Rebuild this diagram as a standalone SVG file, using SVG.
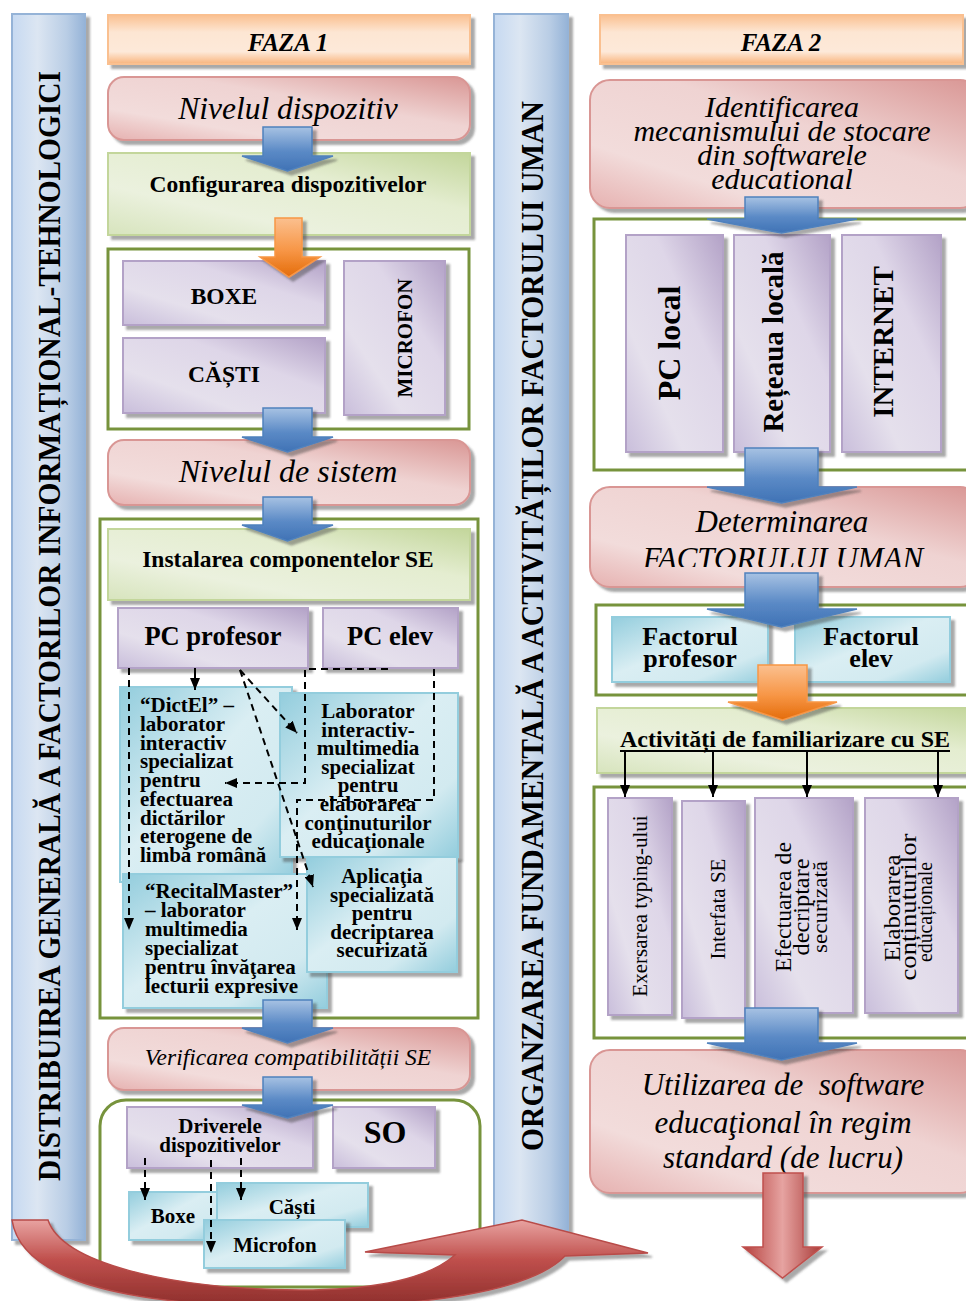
<svg xmlns="http://www.w3.org/2000/svg" width="966" height="1301" viewBox="0 0 966 1301">
<defs>
<linearGradient id="gOr" x1="0" y1="0" x2="0" y2="1"><stop offset="0" stop-color="#fac090"/><stop offset="0.35" stop-color="#fde6d3"/><stop offset="0.75" stop-color="#fde9d9"/><stop offset="1" stop-color="#f9b47c"/></linearGradient>
<linearGradient id="gPk" x1="0" y1="1" x2="1" y2="0"><stop offset="0" stop-color="#e6b1b0"/><stop offset="0.25" stop-color="#f2dcdb"/><stop offset="0.6" stop-color="#efd3d2"/><stop offset="1" stop-color="#d99694"/></linearGradient>
<linearGradient id="gGr" x1="0" y1="1" x2="1" y2="0"><stop offset="0" stop-color="#d7e4bd"/><stop offset="0.3" stop-color="#ebf1de"/><stop offset="0.65" stop-color="#e4edd0"/><stop offset="1" stop-color="#c3d69b"/></linearGradient>
<linearGradient id="gPu" x1="0" y1="1" x2="1" y2="0"><stop offset="0" stop-color="#c9bedb"/><stop offset="0.3" stop-color="#e5e0ec"/><stop offset="0.65" stop-color="#ded6e8"/><stop offset="1" stop-color="#b3a2c7"/></linearGradient>
<linearGradient id="gCy" x1="0" y1="0" x2="1" y2="1"><stop offset="0" stop-color="#93cddd"/><stop offset="0.45" stop-color="#daeef3"/><stop offset="0.75" stop-color="#d2eaf0"/><stop offset="1" stop-color="#93cddd"/></linearGradient>
<linearGradient id="gBar" x1="0" y1="0" x2="1" y2="0"><stop offset="0" stop-color="#c6d9f1"/><stop offset="0.35" stop-color="#dce6f2"/><stop offset="0.75" stop-color="#b9cde5"/><stop offset="1" stop-color="#95b3d7"/></linearGradient>
<linearGradient id="gBl" x1="0" y1="0" x2="0" y2="1"><stop offset="0" stop-color="#a7c2e3"/><stop offset="0.55" stop-color="#5b8ac6"/><stop offset="1" stop-color="#3f72b5"/></linearGradient>
<linearGradient id="gOa" x1="0" y1="0" x2="0" y2="1"><stop offset="0" stop-color="#fbc08f"/><stop offset="0.55" stop-color="#f79646"/><stop offset="1" stop-color="#e46c0a"/></linearGradient>
<linearGradient id="gRd" x1="0" y1="0" x2="0" y2="1"><stop offset="0" stop-color="#e8a3a1"/><stop offset="0.45" stop-color="#c0504d"/><stop offset="1" stop-color="#8c2d2a"/></linearGradient>
<linearGradient id="gRv" x1="0" y1="0" x2="1" y2="0"><stop offset="0" stop-color="#b5403d"/><stop offset="0.5" stop-color="#e6a3a1"/><stop offset="1" stop-color="#a93a37"/></linearGradient>
<filter id="sh" x="-10%" y="-10%" width="130%" height="130%"><feDropShadow dx="4" dy="4" stdDeviation="1.2" flood-color="#404040" flood-opacity="0.45"/></filter>
<marker id="ah" viewBox="0 0 12 10" refX="12" refY="5" markerWidth="12" markerHeight="10" markerUnits="userSpaceOnUse" orient="auto"><path d="M0,0 L12,5 L0,10 Z" fill="#000"/></marker>
<clipPath id="clipDet"><rect x="590" y="487" width="380" height="80"/></clipPath>
</defs>
<style>
.t{font-family:"Liberation Serif","Times New Roman",serif;fill:#000}
.b{font-weight:bold}
.i{font-style:italic}
.m{text-anchor:middle}
.or{fill:url(#gOr);stroke:#fac090;stroke-width:2;filter:url(#sh)}
.pk{fill:url(#gPk);stroke:#d99694;stroke-width:2;filter:url(#sh)}
.gr{fill:url(#gGr);stroke:#c3d69b;stroke-width:2;filter:url(#sh)}
.pu{fill:url(#gPu);stroke:#b3a2c7;stroke-width:2;filter:url(#sh)}
.cy{fill:url(#gCy);stroke:#93cddd;stroke-width:2;filter:url(#sh)}
.bar{fill:url(#gBar);stroke:#95b3d7;stroke-width:2;filter:url(#sh)}
.box{fill:#fff;stroke:#77933c;stroke-width:3}
.ba{fill:url(#gBl);stroke:#4f81bd;stroke-width:1.5;filter:url(#sh)}
.oa{fill:url(#gOa);stroke:#f79646;stroke-width:1.5;filter:url(#sh)}
.ra{fill:url(#gRv);stroke:#c0504d;stroke-width:1.5;filter:url(#sh)}
.dash{fill:none;stroke:#000;stroke-width:2;stroke-dasharray:7 5}
.sol{fill:none;stroke:#000;stroke-width:2}
</style>

<g id="bar-left"><rect x="12" y="14" width="73" height="1226" class="bar"/>
<text class="t b m" font-size="31" transform="translate(60,626) rotate(-90)" textLength="1110" lengthAdjust="spacingAndGlyphs">DISTRIBUIREA GENERALĂ A FACTORILOR INFORMAȚIONAL-TEHNOLOGICI</text></g>
<g id="bar-mid"><rect x="494" y="14" width="74" height="1226" class="bar"/>
<text class="t b m" font-size="31" transform="translate(543,626) rotate(-90)" textLength="1050" lengthAdjust="spacingAndGlyphs">ORGANZAREA FUNDAMENTALĂ A ACTIVITĂȚILOR FACTORULUI UMAN</text></g>

<g id="faza1"><rect x="108" y="15" width="362" height="49" class="or"/><text x="288" y="51" class="t b i m" font-size="25">FAZA 1</text></g>
<g id="nivel-dispozitiv"><rect x="108" y="77" width="362" height="63" rx="16" class="pk"/><text x="288" y="119" class="t i m" font-size="31.5">Nivelul dispozitiv</text></g>
<g id="configurare"><rect x="108" y="153" width="362" height="82" class="gr"/><text x="288" y="192" class="t b m" font-size="23.5">Configurarea dispozitivelor</text></g>
<g id="grp-dispozitive"><rect x="108" y="249" width="361" height="180" class="box"/></g>
<g id="boxe"><rect x="123" y="261" width="202" height="64" class="pu"/><text x="224" y="304" class="t b m" font-size="23.5">BOXE</text></g>
<g id="casti"><rect x="123" y="338" width="202" height="75" class="pu"/><text x="224" y="382" class="t b m" font-size="23.5">CĂȘTI</text></g>
<g id="microfon"><rect x="344" y="261" width="101" height="154" class="pu"/><text class="t b m" font-size="21" transform="translate(412,338) rotate(-90)">MICROFON</text></g>
<g id="nivel-sistem"><rect x="108" y="440" width="362" height="65" rx="16" class="pk"/><text x="288" y="482" class="t i m" font-size="32">Nivelul de sistem</text></g>
<g id="grp-instalare"><rect x="100" y="519" width="378" height="499" class="box"/></g>
<g id="instalare"><rect x="108" y="529" width="362" height="71" class="gr"/><text x="288" y="567" class="t b m" font-size="23.5">Instalarea componentelor SE</text></g>
<g id="pc-profesor"><rect x="118" y="608" width="190" height="60" class="pu"/><text x="213" y="645" class="t b m" font-size="26.5">PC profesor</text></g>
<g id="pc-elev"><rect x="323" y="608" width="135" height="60" class="pu"/><text x="390" y="645" class="t b m" font-size="26.5">PC elev</text></g>
<g id="dictel"><rect x="120" y="687" width="172" height="195" class="cy"/>
<text class="t b" font-size="21"><tspan x="140" y="712">“DictEl” –</tspan><tspan x="140" y="730.75">laborator</tspan><tspan x="140" y="749.5">interactiv</tspan><tspan x="140" y="768.25">specializat</tspan><tspan x="140" y="787">pentru</tspan><tspan x="140" y="805.75">efectuarea</tspan><tspan x="140" y="824.5">dictărilor</tspan><tspan x="140" y="843.25">eterogene de</tspan><tspan x="140" y="862">limbă română</tspan></text></g>
<g id="laborator"><rect x="280" y="693" width="178" height="164" class="cy"/>
<text class="t b m" font-size="21"><tspan x="368" y="718">Laborator</tspan><tspan x="368" y="736.6">interactiv-</tspan><tspan x="368" y="755.2">multimedia</tspan><tspan x="368" y="773.8">specializat</tspan><tspan x="368" y="792.4">pentru</tspan><tspan x="368" y="811">elaborarea</tspan><tspan x="368" y="829.6">conţinuturilor</tspan><tspan x="368" y="848.2">educaţionale</tspan></text></g>
<g id="recitalmaster"><rect x="123" y="874" width="204" height="134" class="cy"/>
<text class="t b" font-size="21"><tspan x="145" y="898">“RecitalMaster”</tspan><tspan x="145" y="917">– laborator</tspan><tspan x="145" y="936">multimedia</tspan><tspan x="145" y="955">specializat</tspan><tspan x="145" y="974">pentru învăţarea</tspan><tspan x="145" y="993">lecturii expresive</tspan></text></g>
<g id="aplicatia"><rect x="307" y="857" width="150" height="115" class="cy"/>
<text class="t b m" font-size="21"><tspan x="382" y="883">Aplicaţia</tspan><tspan x="382" y="901.5">specializată</tspan><tspan x="382" y="920">pentru</tspan><tspan x="382" y="938.5">decriptarea</tspan><tspan x="382" y="957">securizată</tspan></text></g>
<g id="verificare"><rect x="108" y="1028" width="362" height="62" rx="16" class="pk"/><text x="288" y="1065" class="t i m" font-size="23.5">Verificarea compatibilității SE</text></g>
<g id="grp-compat"><rect x="100" y="1100" width="380" height="187" rx="26" class="box"/></g>
<g id="drivere"><rect x="127" y="1107" width="186" height="61" class="pu"/><text class="t b m" font-size="21"><tspan x="220" y="1133">Driverele</tspan><tspan x="220" y="1152">dispozitivelor</tspan></text></g>
<g id="so"><rect x="333" y="1107" width="102" height="61" class="pu"/><text x="385" y="1143" class="t b m" font-size="32">SO</text></g>
<g id="boxe2"><rect x="129" y="1192" width="88" height="48" class="cy"/><text x="173" y="1223" class="t b m" font-size="21">Boxe</text></g>
<g id="casti2"><rect x="217" y="1183" width="151" height="44" class="cy"/><text x="292" y="1214" class="t b m" font-size="21">Căști</text></g>
<g id="microfon2"><rect x="204" y="1220" width="141" height="48" class="cy"/><text x="275" y="1252" class="t b m" font-size="21">Microfon</text></g>

<g id="faza2"><rect x="600" y="15" width="363" height="49" class="or"/><text x="781" y="51" class="t b i m" font-size="25">FAZA 2</text></g>
<g id="identificare"><rect x="590" y="80" width="390" height="128" rx="20" class="pk"/>
<text class="t i m" font-size="30"><tspan x="782" y="117">Identificarea</tspan><tspan x="782" y="141">mecanismului de stocare</tspan><tspan x="782" y="165">din softwarele</tspan><tspan x="782" y="189">educational</tspan></text></g>
<g id="grp-stocare"><rect x="594" y="219" width="380" height="251" class="box"/></g>
<g id="pc-local"><rect x="626" y="235" width="97" height="217" class="pu"/><text class="t b m" font-size="32" transform="translate(680,343) rotate(-90)">PC local</text></g>
<g id="retea-locala"><rect x="734" y="235" width="96" height="217" class="pu"/><text class="t b m" font-size="29" transform="translate(783,342) rotate(-90)">Rețeaua locală</text></g>
<g id="internet"><rect x="842" y="235" width="99" height="217" class="pu"/><text class="t b m" font-size="29" transform="translate(893,342) rotate(-90)">INTERNET</text></g>
<g id="determinare"><rect x="590" y="487" width="390" height="100" rx="20" class="pk"/>
<text x="782" y="532" class="t i m" font-size="31">Determinarea</text>
<text x="783" y="569" class="t i m" font-size="31" clip-path="url(#clipDet)">FACTORULUI UMAN</text></g>
<g id="grp-factor"><rect x="596" y="605" width="378" height="90" class="box"/></g>
<g id="factor-profesor"><rect x="612" y="617" width="156" height="65" class="cy"/><text class="t b m" font-size="26"><tspan x="690" y="645">Factorul</tspan><tspan x="690" y="667">profesor</tspan></text></g>
<g id="factor-elev"><rect x="795" y="617" width="155" height="65" class="cy"/><text class="t b m" font-size="26"><tspan x="871" y="645">Factorul</tspan><tspan x="871" y="667">elev</tspan></text></g>
<g id="activitati"><rect x="597" y="708" width="380" height="65" class="gr"/><text x="785" y="747" class="t b m" font-size="24">Activități de familiarizare cu SE</text><line x1="620" y1="751" x2="950" y2="751" stroke="#000" stroke-width="2"/></g>
<g id="grp-activitati"><rect x="594" y="787" width="380" height="251" class="box"/></g>
<g id="exersare"><rect x="608" y="798" width="64" height="217" class="pu"/><text class="t m" font-size="21" transform="translate(647,906) rotate(-90)">Exersarea typing-ului</text></g>
<g id="interfata"><rect x="682" y="801" width="63" height="217" class="pu"/><text class="t m" font-size="21" transform="translate(725,909) rotate(-90)">Interfata SE</text></g>
<g id="decriptare"><rect x="755" y="798" width="98" height="215" class="pu"/>
<text class="t m" font-size="23" transform="translate(791,907) rotate(-90)" textLength="130" lengthAdjust="spacingAndGlyphs">Efectuarea de</text>
<text class="t m" font-size="23" transform="translate(809,907) rotate(-90)" textLength="97" lengthAdjust="spacingAndGlyphs">decriptare</text>
<text class="t m" font-size="22" transform="translate(827,907) rotate(-90)" textLength="92" lengthAdjust="spacingAndGlyphs">securizată</text></g>
<g id="elaborare"><rect x="865" y="798" width="93" height="215" class="pu"/>
<text class="t m" font-size="23" transform="translate(900,908) rotate(-90)" textLength="107" lengthAdjust="spacingAndGlyphs">Elaborarea</text>
<text class="t m" font-size="23" transform="translate(916,907) rotate(-90)" textLength="147" lengthAdjust="spacingAndGlyphs">conținuturilor</text>
<text class="t m" font-size="20" transform="translate(932,912) rotate(-90)" textLength="100" lengthAdjust="spacingAndGlyphs">educaționale</text></g>
<g id="utilizare"><rect x="590" y="1050" width="390" height="143" rx="20" class="pk"/>
<text class="t i m" font-size="31" xml:space="preserve"><tspan x="783" y="1095">Utilizarea de  software</tspan><tspan x="783" y="1133">educaţional în regim</tspan><tspan x="783" y="1168">standard (de lucru)</tspan></text></g>

<g id="connectors">
<path class="ba" d="M263,127 H312 V156 H333 L287.5,171 L242,156 H263 Z"/>
<path class="oa" d="M275,218 H302 V257 H320 L289,277 L260,257 H275 Z"/>
<path class="ba" d="M263,408 H312 V437 H333 L287.5,452 L242,437 H263 Z"/>
<path class="ba" d="M263,497 H312 V525 H333 L287.5,541 L242,525 H263 Z"/>
<path class="ba" d="M263,1000 H312 V1028 H333 L287.5,1043 L242,1028 H263 Z"/>
<path class="ba" d="M263,1077 H312 V1105 H333 L287.5,1118 L242,1105 H263 Z"/>
<path class="ba" d="M745,197 H818 V219 H857 L781.5,233 L707,219 H745 Z"/>
<path class="ba" d="M745,448 H818 V487 H857 L781.5,503 L707,487 H745 Z"/>
<path class="ba" d="M745,573 H818 V609 H857 L781.5,627 L707,609 H745 Z"/>
<path class="oa" d="M758,665 H807 V702 H837 L782.5,720 L728,702 H758 Z"/>
<path class="ba" d="M745,1008 H818 V1043 H857 L781.5,1060 L707,1043 H745 Z"/>
<path class="ra" d="M763,1173 H803 V1247 H822 L782.5,1278 L743,1247 H763 Z"/>
<path class="dash" d="M129,668 V930" marker-end="url(#ah)"/>
<path class="sol" d="M195,668 V690" marker-end="url(#ah)"/>
<path class="dash" d="M240,670 L297,733" marker-end="url(#ah)"/>
<path class="dash" d="M240,670 L313,887" marker-end="url(#ah)"/>
<path class="dash" d="M388,669 H305 V783 H225" marker-end="url(#ah)"/>
<path class="dash" d="M434,669 V800 H297 V930" marker-end="url(#ah)"/>
<path class="dash" d="M145,1158 V1200" marker-end="url(#ah)"/>
<path class="dash" d="M211,1160 V1253" marker-end="url(#ah)"/>
<path class="dash" d="M241,1158 V1200" marker-end="url(#ah)"/>
<path class="sol" d="M625,751 V797" marker-end="url(#ah)"/>
<path class="sol" d="M713,751 V797" marker-end="url(#ah)"/>
<path class="sol" d="M807,751 V797" marker-end="url(#ah)"/>
<path class="sol" d="M938,751 V797" marker-end="url(#ah)"/>
<path d="M12,1220 L48,1220 C62,1262 165,1289 300,1290 C380,1290 430,1277 455,1255 L365,1252 L522,1220 L648,1253 L565,1256 C530,1292 420,1307 300,1307 C150,1307 22,1287 12,1220 Z" fill="url(#gRd)" stroke="#b84b48" stroke-width="1.5" filter="url(#sh)"/>
</g>
</svg>
